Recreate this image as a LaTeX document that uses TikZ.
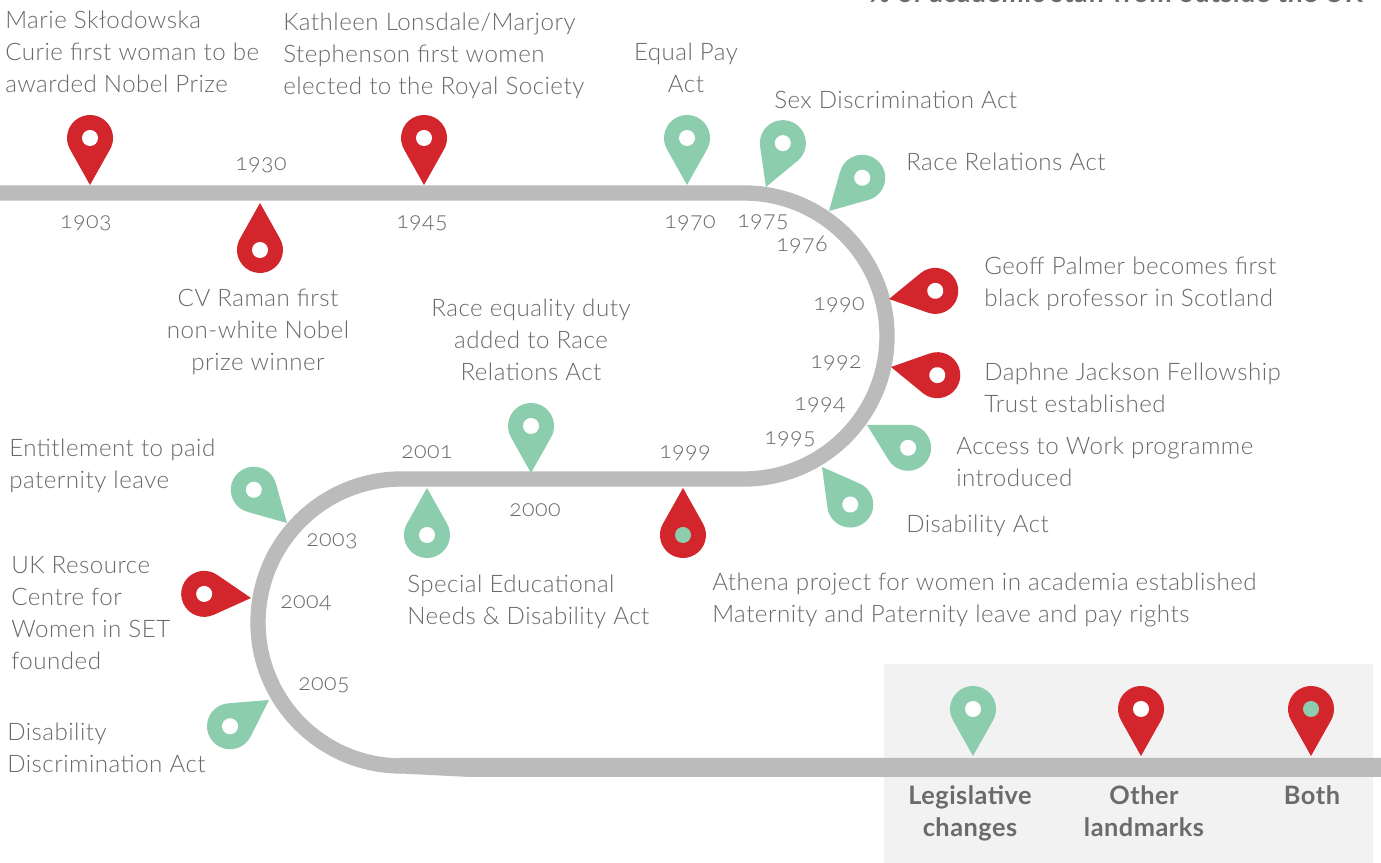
\documentclass[tikz,border=0pt]{standalone}
\usepackage{fontspec}
\setmainfont{Lato Light}[Numbers=OldStyle,LetterSpace=2,BoldFont={Lato Bold}]

\definecolor{trackgrey}{HTML}{BBBBBB}
\definecolor{pinred}{HTML}{D2262C}
\definecolor{pingreen}{HTML}{8CCDAE}
\definecolor{txtgrey}{HTML}{696969}
\definecolor{boldgrey}{HTML}{6B6B6B}
\definecolor{keybg}{HTML}{F2F2F2}

\tikzset{
  lbl/.style={font=\fontsize{18.1}{24}\selectfont,text=txtgrey,inner sep=0pt,align=left,anchor=west},
  lblc/.style={lbl,align=center,anchor=center},
  yearlbl/.style={font=\fontsize{17.4}{24}\selectfont,text=txtgrey,inner sep=0pt},
  keylbl/.style={font=\fontsize{19}{24}\selectfont\bfseries,text=boldgrey,inner sep=0pt,align=center},
  track/.style={draw=trackgrey,line width=11.5pt}
}

\begin{document}
\begin{tikzpicture}[x=0.75pt,y=0.75pt]

    \clip (0,0) rectangle (1381,863);
    \fill[white] (0,0) rectangle (1381,863);

    % key panel
    \fill[keybg] (884,0) rectangle (1373,199);

    % the track
    \draw[track] (0,670) -- (744,670) arc[start angle=90,end angle=-90,radius=143] -- (401.5,384)
        arc[start angle=90,end angle=270,radius=143.5];
    \fill[trackgrey] (398,105) -- (1381,105) -- (1381,86) -- (470,86) -- (400,89.5) -- cycle;

    % pins: tip x / tip y / rotation / body / dot
    \foreach \px/\py/\rot/\body/\spot in {
        90/678/0/pinred/white, 260/660/180/pinred/white, 424/678/0/pinred/white,
        687/678/0/pingreen/white, 766/676/-21/pingreen/white, 829/652/-45/pingreen/white,
        889/564/-80/pinred/white, 891/496/-100/pinred/white,
        867/438/-119/pingreen/white, 822/396/-143/pingreen/white,
        531/390/0/pingreen/white, 427/375/180/pingreen/white, 683/375/180/pinred/pingreen,
        287/340/45/pingreen/white, 251/265/85/pinred/white, 269/163/124/pingreen/white,
        973/107/0/pingreen/white, 1141/107/0/pinred/white, 1311/107/0/pinred/pingreen} {
      \begin{scope}[shift={(\px,\py)},rotate=\rot]
        \fill[\body] (0,0) -- (-19.9,35.5) arc[start angle=210,end angle=-30,radius=23] -- cycle;
        \fill[\spot] (0,47) circle[radius=8];
      \end{scope}
    }

    % years
    \foreach \yr/\px/\py in {
        1903/86/640, 1930/261/698, 1945/422/640, 1970/690/640, 1975/763/641, 1976/802/618,
        1990/839/558, 1992/836/500, 1994/820/458, 1995/790/424, 1999/685/410, 2000/535/353,
        2001/427/411, 2003/332/322, 2004/306/260, 2005/324/178}
      \node[yearlbl] (y\yr) at (\px,\py) {\yr};

    % events
    \node[lbl] (marie) at (5,811) {Marie Skłodowska\\Curie first woman to be\\awarded Nobel Prize};
    \node[lbl] (lonsdale) at (283,807) {Kathleen Lonsdale/Marjory\\Stephenson first women\\elected to the Royal Society};
    \node[lblc] (equalpay) at (686,795) {Equal Pay\\Act};
    \node[lbl] (sexdisc) at (774,763) {Sex Discrimination Act};
    \node[lbl] (racerel) at (906,701) {Race Relations Act};
    \node[lbl] (geoff) at (984,579) {Geoff Palmer becomes first\\black professor in Scotland};
    \node[lbl] (daphne) at (984,475) {Daphne Jackson Fellowship\\Trust established};
    \node[lbl] (access) at (956,401) {Access to Work programme\\introduced};
    \node[lbl] (disact) at (906,337) {Disability Act};
    \node[lbl] (athena) at (712,263) {Athena project for women in academia established\\Maternity and Paternity leave and pay rights};
    \node[lbl] (senda) at (407,261) {Special Educational\\Needs \& Disability Act};
    \node[lblc] (raceduty) at (531,523) {Race equality duty\\added to Race\\Relations Act};
    \node[lblc] (raman) at (258,531) {CV Raman first\\non-white Nobel\\prize winner};
    \node[lbl] (paternity) at (9,397) {Entitlement to paid\\paternity leave};
    \node[lbl] (ukrc) at (11,250) {UK Resource\\Centre for\\Women in SET\\founded};
    \node[lbl] (dda) at (7,115) {Disability\\Discrimination Act};

    % key
    \node[keylbl] (keylegis) at (970,50) {Legislative\\changes};
    \node[keylbl] (keyother) at (1144,52) {Other\\landmarks};
    \node[keylbl] (keyboth) at (1312,68) {Both};

    % cut off at the top edge
    \node[keylbl,font=\fontsize{20}{24}\selectfont\bfseries,anchor=base east] (staffhead) at (1363,860) {\% of academic staff from outside the UK};

\end{tikzpicture}
\end{document}
